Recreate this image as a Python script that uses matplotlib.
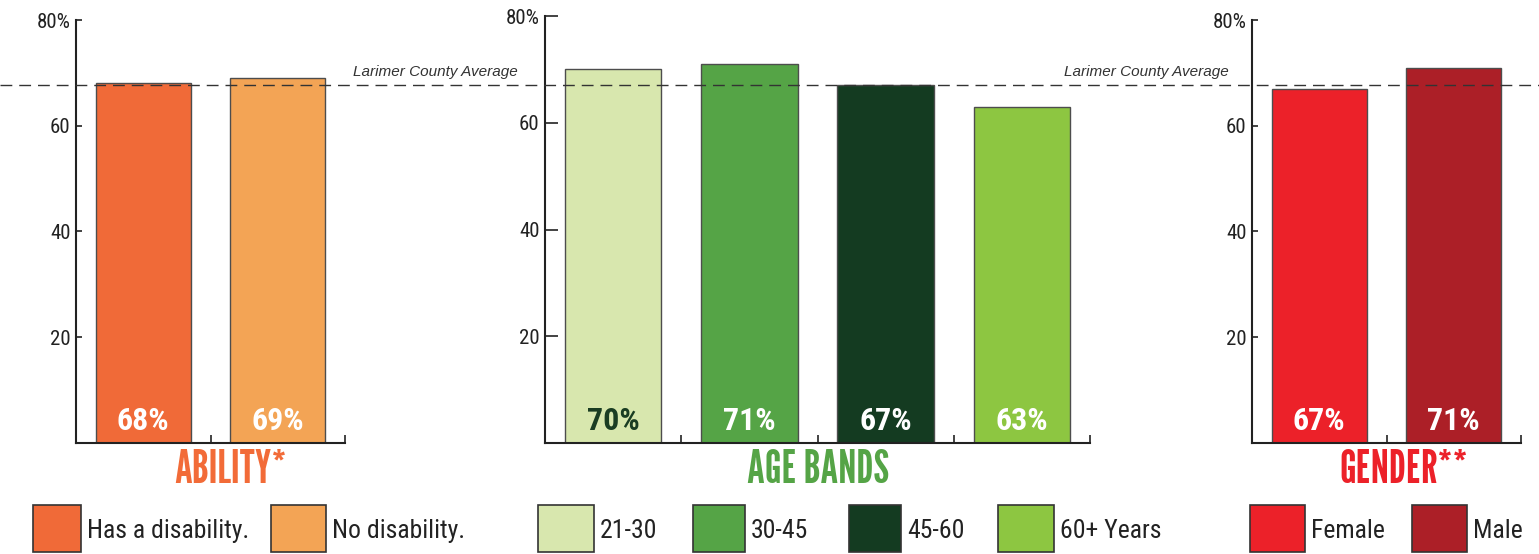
import matplotlib
matplotlib.use("Agg")
import matplotlib.pyplot as plt
from matplotlib.patches import Rectangle
from matplotlib.transforms import blended_transform_factory

# ---- data ----
ability_labels = ["Has a disability.", "No disability."]
ability_values = [68, 69]
ability_colors = ["#f06a38", "#f3a455"]

age_labels = ["21-30", "30-45", "45-60", "60+ Years"]
age_values = [70, 71, 67, 63]
age_colors = ["#d8e7ae", "#55a446", "#143b21", "#8dc641"]

gender_labels = ["Female", "Male"]
gender_values = [67, 71]
gender_colors = ["#ec2129", "#ac1f27"]

county_avg = 67.7

# ---- fonts (fall back to Liberation Sans if a condensed face is missing) ----
NARROW = ["Roboto Condensed", "Liberation Sans", "DejaVu Sans"]
DISPLAY = ["League Gothic", "Roboto Condensed", "Liberation Sans", "DejaVu Sans"]
plt.rcParams["font.family"] = NARROW

W, H = 1539, 554
fig = plt.figure(figsize=(W / 100, H / 100), dpi=100)


def fx(px):
    return px / W


def fy(py):
    return 1 - py / H


def make_axes(left, right, top, bottom=443):
    return fig.add_axes([fx(left), fy(bottom), (right - left) / W, (bottom - top) / H])


def draw_panel(ax, values, colors, label_colors, ytick_len):
    xs = list(range(len(values)))
    ax.bar(xs, values, width=0.71, color=colors, edgecolor="#4d4d4d", linewidth=1, zorder=2)
    for i, v in enumerate(values):
        ax.text(i, 2.4, f"{v}%", ha="center", va="baseline", color=label_colors[i],
                fontsize=23, fontweight="bold", zorder=3)
    ax.set_xlim(-0.5, len(values) - 0.5)
    ax.set_ylim(0, 80)
    ax.set_xticks([i + 0.5 for i in xs])
    ax.set_xticklabels([])
    ax.tick_params(axis="x", direction="in", length=6, width=1.2, color="#222222")
    ax.set_yticks([20, 40, 60, 80])
    ax.set_yticklabels(["20", "40", "60", "80%"])
    ax.tick_params(axis="y", direction="in", length=ytick_len, width=1.2, color="#222222",
                   labelsize=15, pad=4, labelcolor="#222222")
    for s in ["top", "right"]:
        ax.spines[s].set_visible(False)
    for s in ["left", "bottom"]:
        ax.spines[s].set_linewidth(1.5)
        ax.spines[s].set_color("#222222")
    ax.patch.set_alpha(0)


ax1 = make_axes(76, 345, 20)
ax2 = make_axes(545, 1090, 16)
ax3 = make_axes(1252, 1521, 20)

draw_panel(ax1, ability_values, ability_colors, ["white", "white"], 4)
draw_panel(ax2, age_values, age_colors, ["#1a3d22", "white", "white", "white"], 9)
draw_panel(ax3, gender_values, gender_colors, ["white", "white"], 4)

# county average dashed line across the whole figure
trans = blended_transform_factory(fig.transFigure, ax1.transData)
fig.add_artist(plt.Line2D([0, 1], [county_avg, county_avg], transform=trans,
                          color="#333333", lw=1, linestyle=(0, (8.5, 5)), zorder=5))
for xr in [518, 1229]:
    fig.text(fx(xr), fy(76), "Larimer County Average", ha="right", va="baseline",
             fontsize=11, style="italic", color="#333333",
             family=["Liberation Sans", "DejaVu Sans"])

# category titles
titles = [("ABILITY*", 230, "#f26b38"), ("AGE BANDS", 818, "#55a446"), ("GENDER**", 1404, "#ec2129")]
for t, xc, c in titles:
    fig.text(fx(xc), fy(483), t, ha="center", va="baseline", fontsize=33,
             color=c, family=DISPLAY)

# legends
legend_items = [
    (ability_labels, ability_colors, [(33, 81), (271, 326)]),
    (age_labels, age_colors, [(538, 594), (693, 745), (849, 901), (998, 1054)]),
    (gender_labels, gender_colors, [(1250, 1305), (1412, 1467)]),
]
for labels, colors, boxes in legend_items:
    for lab, col, (x0, x1) in zip(labels, colors, boxes):
        fig.add_artist(Rectangle((fx(x0), fy(552)), (x1 - x0) / W, 47 / H,
                                 transform=fig.transFigure, facecolor=col,
                                 edgecolor="#333333", lw=1.2))
        fig.text(fx(x1 + 6), fy(538), lab, ha="left", va="baseline", fontsize=18.5,
                 color="#222222")

fig.savefig("out.png", dpi=100)
